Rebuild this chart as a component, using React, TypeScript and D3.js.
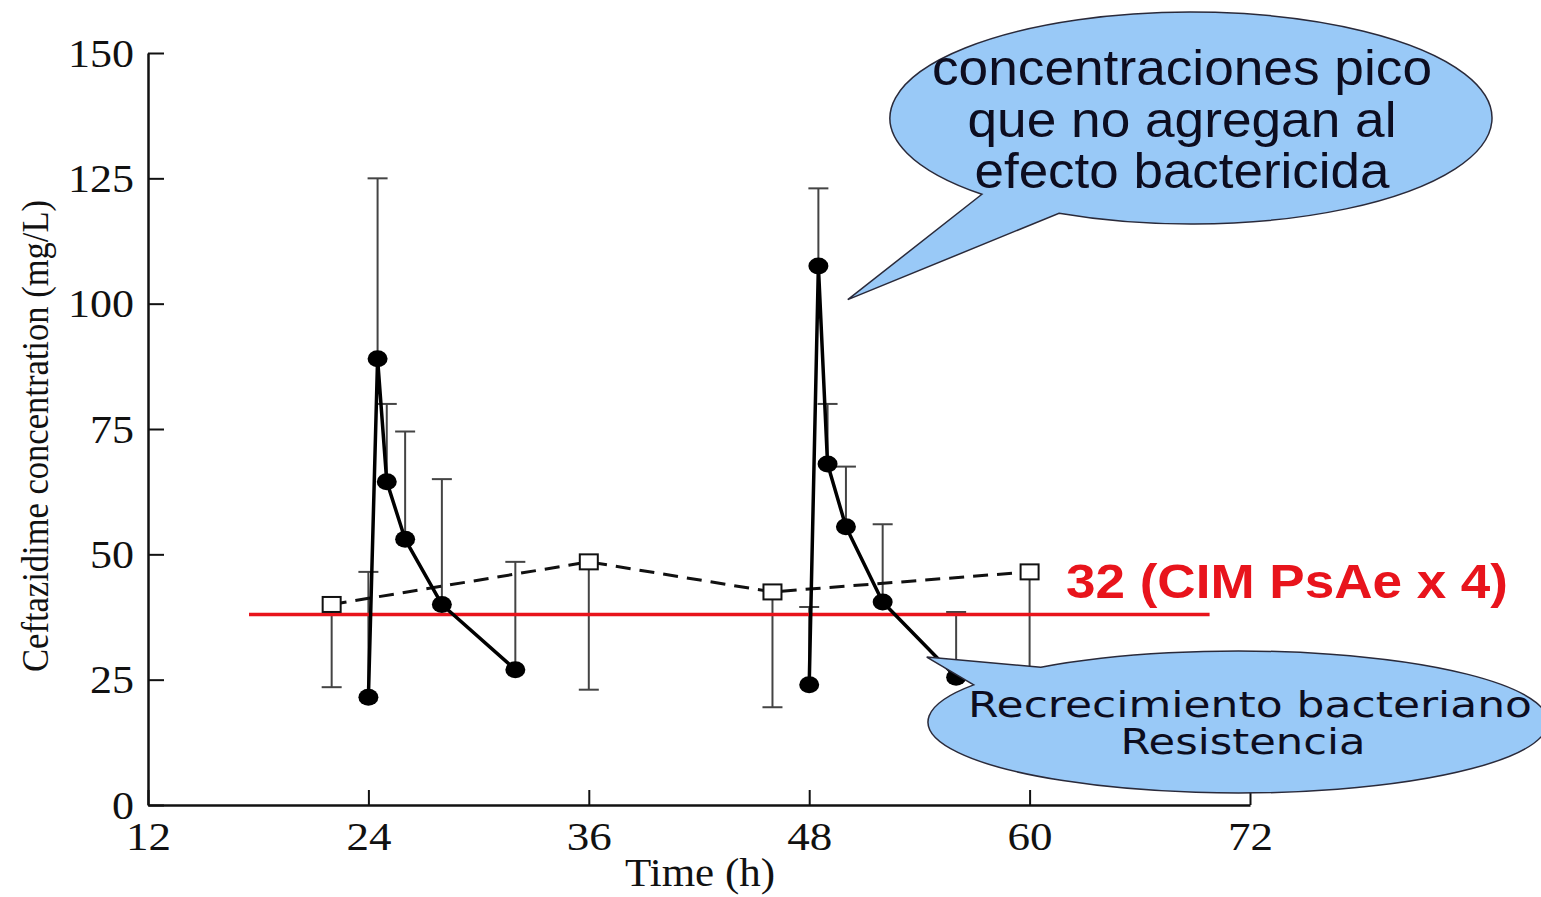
import React, { useEffect, useRef } from 'react';
import * as d3 from 'd3';

// axis ticks
const timeTicks = [12, 24, 36, 48, 60, 72];
const concTicks = [0, 25, 50, 75, 100, 125, 150];

// intermittent dosing (filled circles), mean and upper SD
const dose1Time = [24, 24.5, 25, 26, 28, 32];
const dose1Conc = [21.5, 89, 64.5, 53, 40, 27];
const dose1Upper = [46.5, 125, 80, 74.5, 65, 48.5];

const dose2Time = [48, 48.5, 49, 50, 52, 56];
const dose2Conc = [24, 107.5, 68, 55.5, 40.5, 25.5];
const dose2Upper = [39.5, 123, 80, 67.5, 56, 38.5];

// continuous infusion (open squares), mean and lower SD
const infTime = [22, 36, 46, 60];
const infConc = [40, 48.5, 42.5, 46.5];
const infLower = [23.5, 23, 19.5, 22];

// CIM x 4 reference line
const cimLevel = 38;
const cimStart = 17.5;
const cimEnd = 69.8;

const topNote = ['concentraciones pico', 'que no agregan al', 'efecto bactericida'];
const bottomNote = ['Recrecimiento bacteriano', 'Resistencia'];

const App = () => {
  const svgRef = useRef<SVGSVGElement>(null);

  useEffect(() => {
    const svg = d3.select(svgRef.current);
    svg.selectAll('*').remove();

    const x = d3.scaleLinear().domain([12, 72]).range([148, 1250]);
    const y = d3.scaleLinear().domain([0, 150]).range([805, 53]);
    const serif = '"Liberation Serif", "Times New Roman", serif';
    const sans = '"Liberation Sans", Arial, sans-serif';

    // axes
    const yAxis = svg
      .append('g')
      .attr('transform', `translate(${x(12)},0)`)
      .call(d3.axisLeft(y).tickValues(concTicks).tickSizeInner(-16).tickSizeOuter(0).tickPadding(14));
    yAxis.attr('font-family', serif).attr('font-size', 41);
    yAxis.select('.domain').attr('stroke', '#111').attr('stroke-width', 2.5);
    yAxis.selectAll('.tick line').attr('stroke', '#111').attr('stroke-width', 2);
    yAxis
      .selectAll('.tick text')
      .attr('fill', '#111')
      .attr('textLength', (d: any) => String(d).length * 22)
      .attr('lengthAdjust', 'spacingAndGlyphs');

    const xAxis = svg
      .append('g')
      .attr('transform', `translate(0,${y(0)})`)
      .call(d3.axisBottom(x).tickValues(timeTicks).tickSizeInner(-15).tickSizeOuter(0).tickPadding(16));
    xAxis.attr('font-family', serif).attr('font-size', 41);
    xAxis.select('.domain').attr('stroke', '#111').attr('stroke-width', 2.5);
    xAxis.selectAll('.tick line').attr('stroke', '#111').attr('stroke-width', 2);
    xAxis
      .selectAll('.tick text')
      .attr('fill', '#111')
      .attr('textLength', (d: any) => String(d).length * 22.5)
      .attr('lengthAdjust', 'spacingAndGlyphs');

    svg
      .append('text')
      .attr('x', 700)
      .attr('y', 886)
      .attr('text-anchor', 'middle')
      .attr('font-family', serif)
      .attr('font-size', 40)
      .attr('textLength', 150)
      .attr('lengthAdjust', 'spacingAndGlyphs')
      .attr('fill', '#111')
      .text('Time (h)');

    svg
      .append('text')
      .attr('transform', 'translate(48,436) rotate(-90)')
      .attr('text-anchor', 'middle')
      .attr('font-family', serif)
      .attr('font-size', 38)
      .attr('textLength', 472)
      .attr('lengthAdjust', 'spacingAndGlyphs')
      .attr('fill', '#111')
      .text('Ceftazidime concentration (mg/L)');

    // error bars
    const bars = svg.append('g').attr('stroke', '#444').attr('stroke-width', 2);
    const errBars = [
      ...dose1Time.map((t, i) => [t, dose1Conc[i], dose1Upper[i]]),
      ...dose2Time.map((t, i) => [t, dose2Conc[i], dose2Upper[i]]),
      ...infTime.map((t, i) => [t, infConc[i], infLower[i]]),
    ];
    errBars.forEach(([t, v, e]) => {
      bars.append('line').attr('x1', x(t)).attr('x2', x(t)).attr('y1', y(v)).attr('y2', y(e));
      bars.append('line').attr('x1', x(t) - 10).attr('x2', x(t) + 10).attr('y1', y(e)).attr('y2', y(e));
    });

    // red CIM line
    svg
      .append('line')
      .attr('x1', x(cimStart))
      .attr('x2', x(cimEnd))
      .attr('y1', y(cimLevel))
      .attr('y2', y(cimLevel))
      .attr('stroke', '#e8141c')
      .attr('stroke-width', 3.5);

    // dashed infusion line + squares
    const line = d3
      .line<number[]>()
      .x((d) => d[0])
      .y((d) => d[1]);
    svg
      .append('path')
      .datum(infTime.map((t, i) => [x(t), y(infConc[i])]))
      .attr('fill', 'none')
      .attr('stroke', '#111')
      .attr('stroke-width', 3)
      .attr('stroke-dasharray', '15,9')
      .attr('d', line as any);
    svg
      .selectAll('.sq')
      .data(infTime.map((t, i) => [t, infConc[i]]))
      .enter()
      .append('rect')
      .attr('x', (d) => x(d[0]) - 9)
      .attr('y', (d) => y(d[1]) - 7.5)
      .attr('width', 18)
      .attr('height', 15)
      .attr('fill', '#fff')
      .attr('stroke', '#111')
      .attr('stroke-width', 2);

    // intermittent dosing lines + dots
    [
      [dose1Time, dose1Conc],
      [dose2Time, dose2Conc],
    ].forEach(([ts, vs]) => {
      const pts = ts.map((t, i) => [x(t), y(vs[i])]);
      svg
        .append('path')
        .datum(pts)
        .attr('fill', 'none')
        .attr('stroke', '#000')
        .attr('stroke-width', 3.5)
        .attr('stroke-linejoin', 'round')
        .attr('d', line as any);
      svg
        .append('g')
        .selectAll('ellipse')
        .data(pts)
        .enter()
        .append('ellipse')
        .attr('cx', (d) => d[0])
        .attr('cy', (d) => d[1])
        .attr('rx', 10)
        .attr('ry', 8.5)
        .attr('fill', '#000');
    });

    // red label
    svg
      .append('text')
      .attr('x', 1066)
      .attr('y', 598)
      .attr('font-family', sans)
      .attr('font-weight', 'bold')
      .attr('font-size', 48)
      .attr('textLength', 442)
      .attr('lengthAdjust', 'spacingAndGlyphs')
      .attr('fill', '#e8141c')
      .text('32 (CIM PsAe x 4)');

    // speech bubbles
    const bubble = (cx, cy, rx, ry, a1, a2, tip) => {
      const pa = [cx + rx * Math.cos(a1), cy + ry * Math.sin(a1)];
      const pb = [cx + rx * Math.cos(a2), cy + ry * Math.sin(a2)];
      return `M${pa[0]},${pa[1]} L${tip[0]},${tip[1]} L${pb[0]},${pb[1]} A${rx},${ry} 0 1 0 ${pa[0]},${pa[1]} Z`;
    };
    const rad = Math.PI / 180;

    svg
      .append('path')
      .attr('d', bubble(1191, 118, 301, 106, 134 * rad, 116 * rad, [x(50.1), y(100.8)]))
      .attr('fill', '#99c9f7')
      .attr('stroke', '#2a2a3a')
      .attr('stroke-width', 1.5);
    const topWidths = [500, 429, 415];
    svg
      .append('g')
      .selectAll('text')
      .data(topNote)
      .enter()
      .append('text')
      .attr('x', 1182)
      .attr('y', (d, i) => 85 + i * 51.5)
      .attr('text-anchor', 'middle')
      .attr('font-family', sans)
      .attr('font-size', 50)
      .attr('textLength', (d, i) => topWidths[i])
      .attr('lengthAdjust', 'spacingAndGlyphs')
      .attr('fill', '#0d0d20')
      .text((d) => d);

    svg
      .append('path')
      .attr('d', bubble(1238, 722, 310, 71, 230.5 * rad, 211.5 * rad, [x(54.4), y(29.5)]))
      .attr('fill', '#99c9f7')
      .attr('stroke', '#2a2a3a')
      .attr('stroke-width', 1.5);
    svg
      .append('g')
      .selectAll('text')
      .data(bottomNote)
      .enter()
      .append('text')
      .attr('x', (d, i) => (i === 0 ? 1250 : 1243))
      .attr('y', (d, i) => 717 + i * 37)
      .attr('text-anchor', 'middle')
      .attr('font-family', '"DejaVu Sans", sans-serif')
      .attr('font-size', 36)
      .attr('textLength', (d, i) => (i === 0 ? 564 : 245))
      .attr('lengthAdjust', 'spacingAndGlyphs')
      .attr('fill', '#0d0d20')
      .text((d) => d);
  }, []);

  return (
    <svg
      ref={svgRef}
      width={1541}
      height={897}
      style={{ position: 'absolute', left: 0, top: 0, background: '#fff' }}
    />
  );
};

export default App;
